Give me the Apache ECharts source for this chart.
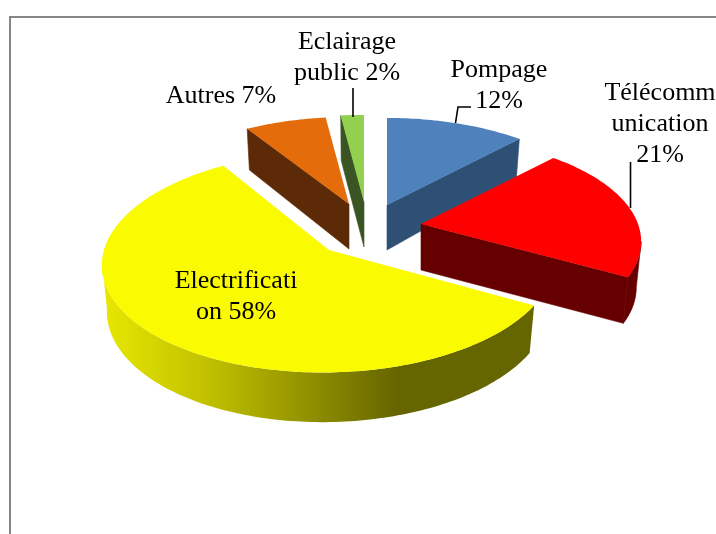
<!DOCTYPE html>
<html>
<head>
<meta charset="utf-8">
<style>html,body{margin:0;padding:0;background:#fff}#c{width:716px;height:534px}</style>
<script src="https://cdn.jsdelivr.net/npm/echarts@6/dist/echarts.min.js"></script>
</head>
<body>
<div id="c"></div>
<script>
const categories = ['Pompage', 'Télécommunication', 'Electrification', 'Autres', 'Eclairage public'];
const values = [12, 21, 58, 7, 2];
const labelTexts = ['Pompage\n12%', 'Télécomm\nunication\n21%', 'Electrificati\non 58%', 'Autres 7%', 'Eclairage\npublic 2%'];
const topColors = ['#4f81bd', '#ff0000', '#fafa00', '#e46c0a', '#92d050'];
const sideColors = ['#2f5075', '#660000', '#666600', '#5c2a06', '#3a5523'];

// layout of the exploded, tilted pie
const apexX = [387, 421, 329, 349, 364];
const apexY = [205, 224, 250, 204, 202];
const radiusX = [217, 217, 225, 217, 217];
const radiusY = [101.7, 101.7, 109, 101.7, 101.7];
const persp = [0.168, 0.168, 0.11, 0.168, 0.168];
const skewX = [0, 0, 6, 0, 0];
const depth = [45, 46, 46, 45, 45];
const lowScaleY = [1.1, 1.0, 1.03, 1.05, 1.0];
const paintOrder = [2, 3, 4, 0, 1];
const labelX = [499, 660, 236, 221, 347];
const labelY = [86, 124.5, 297, 96, 57.5];
const leaders = [
  [[471, 107], [458, 107], [455.5, 123]],
  [[630.5, 162], [630.5, 208]],
  [[353, 88], [353, 117]]
];

const total = values.reduce((a, b) => a + b, 0);
function startAngle(i) {
  let s = 0;
  for (let k = 0; k < i; k++) s += values[k];
  return s / total * Math.PI * 2;
}
function project(i, t, low) {
  const s = 1 / (1 + persp[i] * Math.cos(t));
  const shrink = low ? 0.978 : 1;
  const shrinkY = low ? lowScaleY[i] : 1;
  return [
    apexX[i] + (radiusX[i] * Math.sin(t) + skewX[i] * Math.cos(t)) * s * shrink,
    apexY[i] - radiusY[i] * Math.cos(t) * s * shrinkY + (low ? depth[i] : 0)
  ];
}
function apexPoint(i, low) {
  return [apexX[i], apexY[i] + (low ? depth[i] : 0)];
}
function arc(i, a, b, low) {
  const n = Math.max(2, Math.ceil(Math.abs(b - a) / 0.02));
  const pts = [];
  for (let k = 0; k <= n; k++) pts.push(project(i, a + (b - a) * k / n, low));
  return pts;
}

function renderSlice(params, api) {
  const i = api.value(0);
  const a = startAngle(i);
  const b = a + api.value(1) / total * Math.PI * 2;
  const order = paintOrder[i] * 10;
  const side = sideColors[i];
  const children = [];
  const poly = (points, fill, z2, stroke) => ({
    type: 'polygon', shape: { points }, z2,
    style: { fill, stroke: stroke || null, lineWidth: stroke ? 0.6 : 0 }
  });

  // cut faces that look toward the viewer
  if (Math.sin(a) < -1e-6) {
    children.push(poly([apexPoint(i, false), project(i, a, false), project(i, a, true), apexPoint(i, true)], side, order + 1, side));
  }
  if (Math.sin(b) > 1e-6) {
    children.push(poly([apexPoint(i, false), project(i, b, false), project(i, b, true), apexPoint(i, true)], side, order + 1, side));
  }
  // outer rim: between the two silhouette tangents of the tilted disc
  const tangent = Math.acos(-persp[i]);
  const lo = Math.max(a, tangent);
  const hi = Math.min(b, Math.PI * 2 - tangent);
  if (hi > lo) {
    const upper = arc(i, lo, hi, false);
    const lower = arc(i, hi, lo, true);
    let fill = side;
    if (i === 2) {
      fill = new echarts.graphic.LinearGradient(0, 0, 1, 0, [
        { offset: 0, color: '#e8e800' },
        { offset: 0.25, color: '#c0c000' },
        { offset: 0.68, color: '#666600' },
        { offset: 1, color: '#666600' }
      ]);
    }
    children.push(poly(upper.concat(lower), fill, order + 2, i === 2 ? null : side));
  }
  // top face
  children.push(poly([apexPoint(i, false)].concat(arc(i, a, b, false)), topColors[i], order + 3));
  return { type: 'group', children };
}

const graphics = [
  { type: 'line', shape: { x1: 9.5, y1: 17, x2: 716, y2: 17 }, style: { stroke: '#868686', lineWidth: 2 }, silent: true },
  { type: 'line', shape: { x1: 10, y1: 16, x2: 10, y2: 534 }, style: { stroke: '#868686', lineWidth: 2 }, silent: true }
];
leaders.forEach(points => graphics.push({
  type: 'polyline', shape: { points }, z: 5, silent: true,
  style: { stroke: '#000', lineWidth: 1.6, fill: null }
}));
labelTexts.forEach((text, i) => graphics.push({
  type: 'text', x: labelX[i], y: labelY[i], z: 6, silent: true,
  style: {
    text, fill: '#000', font: '26px "Liberation Serif"', lineHeight: 31,
    align: 'center', verticalAlign: 'middle'
  }
}));

const chart = echarts.init(document.getElementById('c'), null, { renderer: 'canvas' });
chart.setOption({
  animation: false,
  backgroundColor: '#fff',
  graphic: graphics,
  series: [{
    type: 'custom',
    coordinateSystem: 'none',
    silent: true,
    renderItem: renderSlice,
    data: values.map((v, i) => ({ name: categories[i], value: [i, v] }))
  }]
});
</script>
</body>
</html>
